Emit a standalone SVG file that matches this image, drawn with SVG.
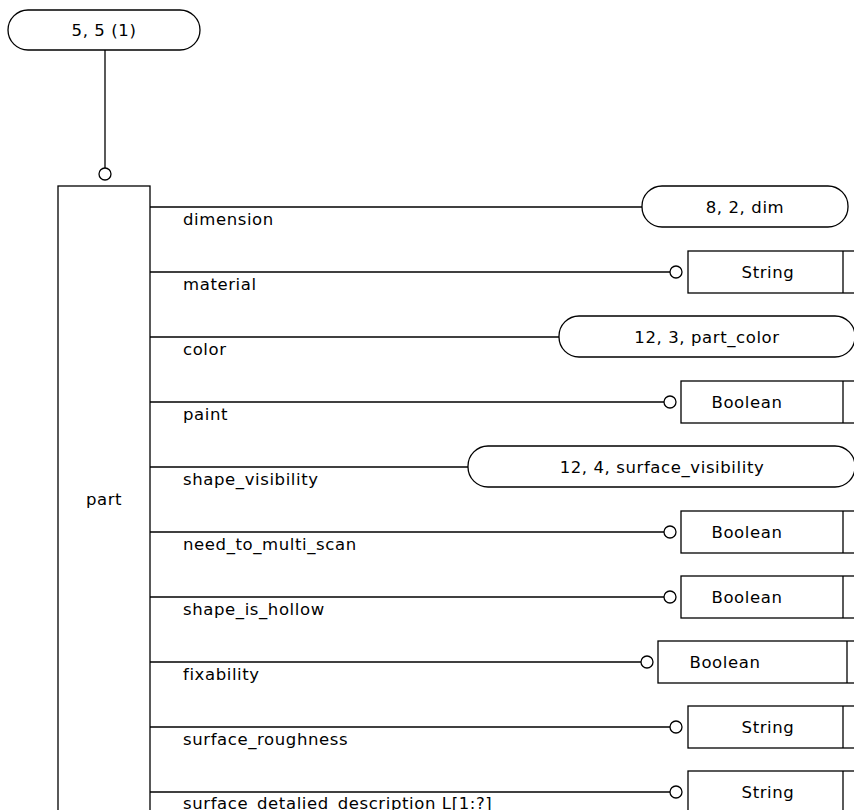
<svg xmlns="http://www.w3.org/2000/svg" width="854" height="810" viewBox="0 0 854 810">
<style>
  .shape{fill:#fff;stroke:#000;stroke-width:1.3}
  .ln{stroke:#000;stroke-width:1.3;fill:none}
  .t{font-family:"DejaVu Sans","Liberation Sans",Arial,sans-serif;font-size:16.5px;letter-spacing:0.6px;fill:#000}
  .c{text-anchor:middle}
</style>
<rect width="854" height="810" fill="#fff"/>
<g id="connectors">
  <line class="ln" x1="105" y1="50" x2="105" y2="168"/>
  <circle class="shape" cx="105" cy="174" r="6"/>
  <line class="ln" x1="150" y1="207" x2="642" y2="207"/>
  <line class="ln" x1="150" y1="272" x2="670" y2="272"/>
  <circle class="shape" cx="676" cy="272" r="6"/>
  <line class="ln" x1="150" y1="337" x2="559" y2="337"/>
  <line class="ln" x1="150" y1="402" x2="664" y2="402"/>
  <circle class="shape" cx="670" cy="402" r="6"/>
  <line class="ln" x1="150" y1="467" x2="468" y2="467"/>
  <line class="ln" x1="150" y1="532" x2="664" y2="532"/>
  <circle class="shape" cx="670" cy="532" r="6"/>
  <line class="ln" x1="150" y1="597" x2="664" y2="597"/>
  <circle class="shape" cx="670" cy="597" r="6"/>
  <line class="ln" x1="150" y1="662" x2="641" y2="662"/>
  <circle class="shape" cx="647" cy="662" r="6"/>
  <line class="ln" x1="150" y1="727" x2="670" y2="727"/>
  <circle class="shape" cx="676" cy="727" r="6"/>
  <line class="ln" x1="150" y1="792" x2="670" y2="792"/>
  <circle class="shape" cx="676" cy="792" r="6"/>
</g>
<g id="n_top">
  <rect class="shape" x="8" y="10" width="192" height="40" rx="20"/>
  <text class="t c" x="104" y="36">5, 5 (1)</text>
</g>
<g id="n_part">
  <rect class="shape" x="58" y="186" width="92" height="660"/>
  <text class="t c" x="104" y="505">part</text>
</g>
<g id="labels">
  <text class="t" x="183" y="225">dimension</text>
  <text class="t" x="183" y="290">material</text>
  <text class="t" x="183" y="355">color</text>
  <text class="t" x="183" y="420">paint</text>
  <text class="t" x="183" y="485">shape_visibility</text>
  <text class="t" x="183" y="550">need_to_multi_scan</text>
  <text class="t" x="183" y="615">shape_is_hollow</text>
  <text class="t" x="183" y="680">fixability</text>
  <text class="t" x="183" y="745">surface_roughness</text>
  <text class="t" x="183" y="809">surface_detalied_description L[1:?]</text>
</g>
<g id="n_dim">
  <rect class="shape" x="642" y="186" width="206" height="41" rx="20"/>
  <text class="t c" x="745" y="213">8, 2, dim</text>
</g>
<g id="n_material">
  <rect class="shape" x="688" y="251" width="200" height="42"/>
  <line class="ln" x1="843" y1="251" x2="843" y2="293"/>
  <text class="t c" x="768" y="278">String</text>
</g>
<g id="n_color">
  <rect class="shape" x="559" y="316" width="296" height="41" rx="20"/>
  <text class="t c" x="707" y="343">12, 3, part_color</text>
</g>
<g id="n_paint">
  <rect class="shape" x="681" y="381" width="200" height="42"/>
  <line class="ln" x1="843" y1="381" x2="843" y2="423"/>
  <text class="t c" x="747" y="408">Boolean</text>
</g>
<g id="n_shapevis">
  <rect class="shape" x="468" y="446" width="387" height="41" rx="20"/>
  <text class="t c" x="662" y="473">12, 4, surface_visibility</text>
</g>
<g id="n_multiscan">
  <rect class="shape" x="681" y="511" width="200" height="42"/>
  <line class="ln" x1="843" y1="511" x2="843" y2="553"/>
  <text class="t c" x="747" y="538">Boolean</text>
</g>
<g id="n_hollow">
  <rect class="shape" x="681" y="576" width="200" height="42"/>
  <line class="ln" x1="843" y1="576" x2="843" y2="618"/>
  <text class="t c" x="747" y="603">Boolean</text>
</g>
<g id="n_fix">
  <rect class="shape" x="658" y="641" width="220" height="42"/>
  <line class="ln" x1="847" y1="641" x2="847" y2="683"/>
  <text class="t c" x="725" y="668">Boolean</text>
</g>
<g id="n_rough">
  <rect class="shape" x="688" y="706" width="200" height="42"/>
  <line class="ln" x1="843" y1="706" x2="843" y2="748"/>
  <text class="t c" x="768" y="733">String</text>
</g>
<g id="n_desc">
  <rect class="shape" x="688" y="771" width="200" height="42"/>
  <line class="ln" x1="843" y1="771" x2="843" y2="813"/>
  <text class="t c" x="768" y="798">String</text>
</g>
</svg>
